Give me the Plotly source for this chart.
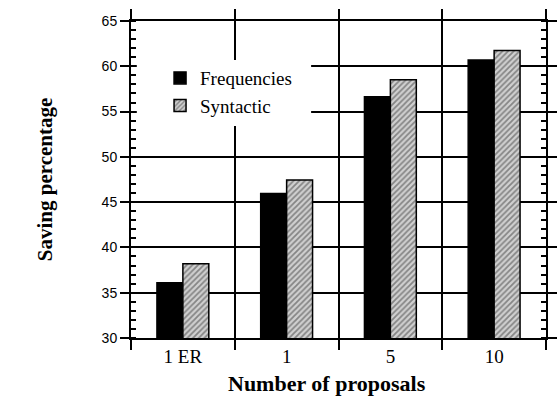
import plotly.graph_objects as go

categories = ["1 ER", "1", "5", "10"]
frequencies = [36.1, 45.95, 56.65, 60.7]
syntactic = [38.2, 47.45, 58.5, 61.75]

y_min, y_max = 30, 65
y_title = "Saving percentage"
x_title = "Number of proposals"

serif = "Liberation Serif, Times New Roman, serif"
sans = "Liberation Sans, Arial, sans-serif"

fig = go.Figure()
fig.add_trace(go.Bar(
    x=categories, y=frequencies, name="Frequencies",
    marker=dict(color="black", line=dict(color="black", width=1.5)),
))
fig.add_trace(go.Bar(
    x=categories, y=syntactic, name="Syntactic",
    marker=dict(
        color="#c8c8c8",
        line=dict(color="black", width=1.5),
        pattern=dict(shape="/", fgcolor="#3a3a3a", bgcolor="#d0d0d0",
                     size=4, solidity=0.45),
    ),
))

fig.update_layout(
    width=560, height=396,
    margin=dict(l=131, r=3, t=21, b=58),
    paper_bgcolor="white", plot_bgcolor="white",
    barmode="group", bargap=0.5, bargroupgap=0,
    showlegend=True,
    legend=dict(
        x=0.07, y=0.88, xanchor="left", yanchor="top",
        bgcolor="rgba(0,0,0,0)",
        font=dict(family=serif, size=19, color="black"),
    ),
    font=dict(family=serif, color="black"),
)

fig.update_xaxes(
    type="category", tickson="boundaries",
    showline=True, linecolor="black", linewidth=2, mirror="ticks",
    ticks="outside", ticklen=10, tickwidth=2, tickcolor="black",
    showgrid=True, gridcolor="black", gridwidth=2,
    tickfont=dict(family=serif, size=19, color="black"),
    range=[-0.5, 3.5],
)
fig.update_yaxes(
    range=[y_min, y_max], dtick=5, tick0=30,
    showline=True, linecolor="black", linewidth=2, mirror="ticks",
    ticks="outside", ticklen=9, tickwidth=2, tickcolor="black",
    minor=dict(dtick=1, ticks="inside", ticklen=5, tickwidth=1.5,
               tickcolor="black", showgrid=False),
    showgrid=True, gridcolor="black", gridwidth=2,
    zeroline=False,
    tickfont=dict(family=sans, size=14, color="black"),
)

# white box behind the legend, hiding grid lines there
fig.add_shape(type="rect", xref="paper", yref="y",
              x0=0.014, x1=0.434, y0=53.4, y1=60.7,
              fillcolor="white", line=dict(width=0), layer="above")

fig.add_annotation(
    text="<b>" + y_title + "</b>", textangle=-90,
    xref="paper", yref="paper", x=-0.208, y=0.5,
    xanchor="center", yanchor="middle", showarrow=False,
    font=dict(family=serif, size=21, color="black"),
)
fig.add_annotation(
    text="<b>" + x_title + "</b>",
    xref="paper", yref="paper", x=0.472, y=-0.142,
    xanchor="center", yanchor="middle", showarrow=False,
    font=dict(family=serif, size=22, color="black"),
)

fig.write_html(
    "out.html",
    config={"displayModeBar": False},
    post_script="document.body.style.margin='0';document.body.style.padding='0';",
)
